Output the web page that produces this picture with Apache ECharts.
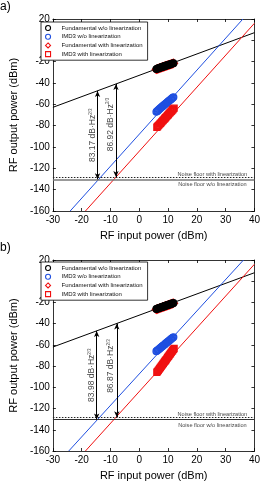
<!DOCTYPE html>
<html>
<head>
<meta charset="utf-8">
<script src="https://cdn.jsdelivr.net/npm/echarts@6/dist/echarts.min.js"></script>
<style>
html,body{margin:0;padding:0;background:#fff;}
#c{width:263px;height:482px;}
</style>
</head>
<body>
<div id="c"></div>
<script>
// ---------- data ----------
const xRange = [-30, 40];
const yRange = [-160, 20];

// panel a
const aFundLine = [[-30, -62.8], [40, 7.2]];
const aImdWoLine = [[-24, -160], [36, 20]];
const aImdWithLine = [[-18.7, -160], [40, 16]];
const aFundX = [5.9,6.15,6.4,6.65,6.9,7.15,7.4,7.65,7.9,8.15,8.4,8.65,8.9,9.15,9.4,9.65,9.9,10.15,10.4,10.65,10.9,11.15,11.4,11.65,11.9];
const aFundWoY = [-26.9,-26.7,-26.4,-26.2,-25.9,-25.7,-25.5,-25.2,-25.0,-24.7,-24.5,-24.3,-24.1,-23.8,-23.6,-23.4,-23.2,-22.9,-22.8,-22.5,-22.3,-22.0,-21.8,-21.6,-21.4];
const aFundWithY = [-27.3,-27.0,-26.8,-26.5,-26.2,-26.0,-25.8,-25.5,-25.3,-25.0,-24.8,-24.6,-24.3,-24.1,-23.9,-23.6,-23.4,-23.2,-23.0,-22.7,-22.5,-22.2,-22.0,-21.8,-21.5];
const aImdWoY = [-67.0,-66.5,-65.9,-65.2,-64.6,-64.0,-63.4,-62.8,-62.2,-61.7,-61.1,-60.6,-60.0,-59.4,-58.8,-58.3,-57.7,-57.1,-56.5,-56.0,-55.4,-54.9,-54.3,-53.7,-53.2];
const aImdWithX = [6.1,6.35,6.6,6.85,7.1,7.35,7.6,7.85,8.1,8.35,8.6,8.85,9.1,9.35,9.6,9.85,10.1,10.35,10.6,10.85,11.1,11.35,11.6,11.85,12.1];
const aImdWithY = [-81.5,-80.8,-80.0,-79.3,-78.6,-77.8,-77.1,-76.3,-75.6,-74.8,-74.1,-73.3,-72.6,-71.8,-71.1,-70.3,-69.6,-68.8,-68.1,-67.3,-66.6,-65.8,-65.1,-64.3,-63.6];
const aNoiseWith = -128;
const aNoiseWo = -130.5;
const aArrows = [[-14.5, -47.4, -130.3], [-8.1, -40.9, -128.2]];
const aArrowText = ['83.17 dB·Hz', '86.92 dB·Hz'];
const aTextPos = [[-16.2, -89], [-10.1, -79]];

// panel b
const bFundLine = [[-30, -62], [40, 8]];
const bImdWoLine = [[-24.5, -160], [36.2, 20]];
const bImdWithLine = [[-18.7, -160], [40, 16]];
const bFundX = [5.9,6.15,6.4,6.65,6.9,7.15,7.4,7.65,7.9,8.15,8.4,8.65,8.9,9.15,9.4,9.65,9.9,10.15,10.4,10.65,10.9,11.15,11.4,11.65,11.9];
const bFundWoY = [-26.2,-26.0,-25.7,-25.5,-25.2,-25.0,-24.8,-24.5,-24.3,-24.0,-23.8,-23.6,-23.3,-23.1,-22.9,-22.6,-22.4,-22.1,-21.9,-21.7,-21.5,-21.2,-21.0,-20.8,-20.5];
const bFundWithY = [-26.6,-26.4,-26.1,-25.9,-25.6,-25.4,-25.1,-24.9,-24.6,-24.4,-24.1,-23.9,-23.6,-23.4,-23.2,-22.9,-22.7,-22.4,-22.2,-21.9,-21.7,-21.4,-21.2,-20.9,-20.7];
const bImdWoY = [-66.0,-65.5,-64.9,-64.4,-63.8,-63.2,-62.6,-62.1,-61.5,-61.0,-60.4,-59.9,-59.3,-58.7,-58.1,-57.6,-57.0,-56.5,-55.9,-55.4,-54.8,-54.2,-53.6,-53.1,-52.6];
const bImdWithX = [6.1,6.35,6.6,6.85,7.1,7.35,7.6,7.85,8.1,8.35,8.6,8.85,9.1,9.35,9.6,9.85,10.1,10.35,10.6,10.85,11.1,11.35,11.6,11.85,12.1];
const bImdWithY = [-85.8,-84.9,-84.0,-83.1,-82.2,-81.2,-80.3,-79.4,-78.4,-77.5,-76.5,-75.6,-74.7,-73.8,-72.8,-71.8,-70.9,-70.0,-69.0,-68.1,-67.1,-66.2,-65.3,-64.3,-63.4];
const bNoiseWith = -128;
const bNoiseWo = -130.5;
const bArrows = [[-14.8, -46.8, -130.3], [-7.8, -39.8, -128.2]];
const bArrowText = ['83.98 dB·Hz', '86.87 dB·Hz'];
const bTextPos = [[-16.6, -88.5], [-9.8, -80]];

const noiseLabels = ['Noise floor with linearization', 'Noise floor w/o linearization'];
const noiseLabelPos = [[25.4, -125.3], [25.4, -135.5]];
const seriesNames = ['Fundamental w/o linearization', 'IMD3 w/o linearization', 'Fundamental with linearization', 'IMD3 with linearization'];
const panelLabels = ['a)', 'b)'];
const axisTitleX = 'RF input power (dBm)';
const axisTitleY = 'RF output power (dBm)';

// ---------- build ----------
const FONT = 'Liberation Sans, Arial, sans-serif';
const zip = (xs, ys) => xs.map((x, i) => [x, ys[i]]);
const NOFILL = 'rgba(255,255,255,0)';

function axesFor(gi) {
  const base = {
    gridIndex: gi, type: 'value', min: xRange[0], max: xRange[1], interval: 10,
    splitLine: { show: false },
    axisLine: { onZero: false, lineStyle: { color: '#000', width: 0.8 } },
    axisTick: { inside: true, length: 3, lineStyle: { color: '#000', width: 0.8 } },
  };
  const xs = [
    Object.assign({}, base, {
      position: 'bottom',
      axisLabel: { color: '#000', fontSize: 10, fontFamily: FONT, margin: 4 },
      name: axisTitleX, nameLocation: 'middle', nameGap: 19,
      nameTextStyle: { color: '#000', fontSize: 11, fontFamily: FONT }
    }),
    Object.assign({}, base, { position: 'top', axisLabel: { show: false } })
  ];
  const ybase = Object.assign({}, base, { min: yRange[0], max: yRange[1], interval: 20 });
  const ys = [
    Object.assign({}, ybase, {
      position: 'left',
      axisLabel: { color: '#000', fontSize: 10, fontFamily: FONT, margin: 3 },
      name: axisTitleY, nameLocation: 'middle', nameGap: 28, nameRotate: 90,
      nameTextStyle: { color: '#000', fontSize: 11, fontFamily: FONT }
    }),
    Object.assign({}, ybase, { position: 'right', axisLabel: { show: false } })
  ];
  return { xs, ys };
}

function panelSeries(xi, yi, d) {
  const s = [];
  const lineS = (data, color) => ({
    type: 'line', xAxisIndex: xi, yAxisIndex: yi, data, showSymbol: false, silent: true,
    lineStyle: { color, width: 1 }, z: 2
  });
  s.push(lineS(d.fundLine, '#000'));
  s.push(lineS(d.imdWoLine, '#1f4fe0'));
  s.push(lineS(d.imdWithLine, '#f01010'));
  const sc = (name, data, symbol, color, size, z) => ({
    type: 'scatter', name, xAxisIndex: xi, yAxisIndex: yi, data, symbol, symbolSize: size,
    itemStyle: { color: NOFILL, borderColor: color, borderWidth: 1.3, opacity: 1 }, z
  });
  s.push(sc(seriesNames[2], zip(d.fundX, d.fundWithY), 'diamond', '#f01010', 8, 3));
  s.push(sc(seriesNames[0], zip(d.fundX, d.fundWoY), 'circle', '#000', 6.5, 4));
  s.push(sc(seriesNames[1], zip(d.fundX, d.imdWoY), 'circle', '#1f4fe0', 6.5, 4));
  s.push(sc(seriesNames[3], zip(d.imdWithX, d.imdWithY), 'rect', '#f01010', 6, 4));
  // noise floors
  s.push({
    type: 'line', xAxisIndex: xi, yAxisIndex: yi, data: [], silent: true,
    markLine: {
      silent: true, symbol: ['none', 'none'], label: { show: false }, animation: false,
      data: [
        { yAxis: d.noiseWith, lineStyle: { type: [1.5, 1.5], color: '#222', width: 1 } },
        { yAxis: d.noiseWo, lineStyle: { type: 'solid', color: d.woColor, width: d.woWidth } }
      ]
    }
  });
  // double arrows
  s.push({
    type: 'line', xAxisIndex: xi, yAxisIndex: yi, data: [], silent: true,
    markLine: {
      silent: true, symbol: ['arrow', 'arrow'], symbolSize: [4, 6], label: { show: false }, animation: false,
      lineStyle: { type: 'solid', color: '#000', width: 1 },
      data: d.arrows.map(a => [{ coord: [a[0], a[1]] }, { coord: [a[0], a[2]] }])
    }
  });
  // arrow texts
  s.push({
    type: 'scatter', xAxisIndex: xi, yAxisIndex: yi, symbolSize: 0, silent: true, z: 5,
    data: d.textPos.map((p, i) => ({ value: p, txt: d.arrowText[i] })),
    label: {
      show: true, position: 'inside', rotate: 90,
      formatter: (p) => '{a|' + p.data.txt + '}{s|2/3}',
      rich: {
        a: { fontSize: 8.5, color: '#111', fontFamily: FONT },
        s: { fontSize: 4.5, color: '#111', fontFamily: FONT, padding: [0, 0, 4, 0] }
      }
    }
  });
  // noise floor labels
  s.push({
    type: 'scatter', xAxisIndex: xi, yAxisIndex: yi, symbolSize: 0, silent: true, z: 5,
    data: noiseLabelPos.map((p, i) => ({ value: p, txt: noiseLabels[i] })),
    label: {
      show: true, position: 'inside', formatter: (p) => p.data.txt,
      fontSize: 5.6, color: '#111', fontFamily: FONT
    }
  });
  return s;
}

const A = {
  fundLine: aFundLine, imdWoLine: aImdWoLine, imdWithLine: aImdWithLine,
  fundX: aFundX, fundWoY: aFundWoY, fundWithY: aFundWithY, imdWoY: aImdWoY,
  imdWithX: aImdWithX, imdWithY: aImdWithY, noiseWith: aNoiseWith, noiseWo: aNoiseWo,
  arrows: aArrows, arrowText: aArrowText, textPos: aTextPos, woColor: '#777', woWidth: 1.6
};
const B = {
  fundLine: bFundLine, imdWoLine: bImdWoLine, imdWithLine: bImdWithLine,
  fundX: bFundX, fundWoY: bFundWoY, fundWithY: bFundWithY, imdWoY: bImdWoY,
  imdWithX: bImdWithX, imdWithY: bImdWithY, noiseWith: bNoiseWith, noiseWo: bNoiseWo,
  arrows: bArrows, arrowText: bArrowText, textPos: bTextPos, woColor: '#333', woWidth: 1
};

const axA = axesFor(0), axB = axesFor(1);
const legendColors = ['#000', '#1f4fe0', '#f01010', '#f01010'];
const legendIcons = ['circle', 'circle', 'diamond', 'rect'];
const legendBase = (top) => ({
  orient: 'vertical', left: 41, top, padding: [3, 5, 3, 4], itemGap: 2.6,
  itemWidth: 5, itemHeight: 5, selectedMode: false,
  borderColor: '#000', borderWidth: 0.8, backgroundColor: '#fff',
  textStyle: { fontSize: 6, fontFamily: FONT, color: '#111', padding: [0, 0, 0, 6] },
  data: seriesNames.map((n, i) => ({
    name: n, icon: legendIcons[i],
    itemStyle: { color: NOFILL, borderColor: legendColors[i], borderWidth: 1.1 }
  }))
});

const chart = echarts.init(document.getElementById('c'), null, { renderer: 'canvas' });
chart.setOption({
  animation: false,
  backgroundColor: '#fff',
  grid: [
    { left: 38, right: 6, top: 19, height: 192 },
    { left: 38, right: 6, top: 260, height: 193 }
  ],
  xAxis: [...axA.xs, ...axB.xs],
  yAxis: [...axA.ys, ...axB.ys],
  legend: [legendBase(22), legendBase(262)],
  graphic: [
    { type: 'text', left: 0, top: 1, style: { text: panelLabels[0], fontSize: 12, fontFamily: FONT, fill: '#000' } },
    { type: 'text', left: 0, top: 242, style: { text: panelLabels[1], fontSize: 12, fontFamily: FONT, fill: '#000' } }
  ],
  series: [...panelSeries(0, 0, A), ...panelSeries(2, 2, B)]
});
</script>
</body>
</html>
